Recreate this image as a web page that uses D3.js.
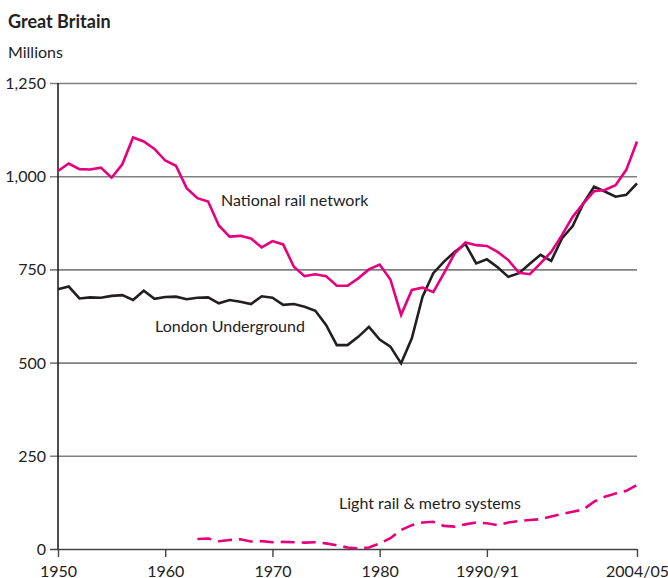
<!DOCTYPE html>
<html lang="en">
<head>
<meta charset="UTF-8">
<script src="https://d3js.org/d3.v7.min.js"></script>
<title>Great Britain rail passengers</title>
<style>
    body { margin: 0; background: white; }
    text { font-family: Lato, "Open Sans", sans-serif; fill: #222; }
</style>
</head>
<body>
<div id="chart"></div>
<script>
    // Passenger journeys, millions, one value per year 1950..2004/05
    const nationalRail = [1014, 1034, 1019, 1018, 1023, 996, 1032, 1104, 1093, 1073,
        1042, 1028, 968, 941, 932, 868, 838, 840, 833, 809,
        826, 817, 757, 732, 737, 732, 706, 706, 726, 750,
        763, 723, 628, 695, 701, 689, 740, 793, 822, 815,
        813, 797, 775, 741, 737, 766, 797, 842, 891, 927,
        960, 963, 976, 1017, 1093];
    const londonUnderground = [697, 704, 672, 675, 674, 679, 681, 668, 693, 671,
        676, 677, 670, 674, 675, 659, 668, 663, 657, 678,
        674, 655, 657, 650, 639, 601, 547, 547, 569, 596,
        562, 543, 498, 565, 677, 740, 771, 797, 818, 766,
        777, 756, 730, 740, 765, 789, 773, 833, 866, 927,
        972, 959, 945, 950, 981];
    // light rail starts in 1963
    const lightRailStart = 1963;
    const lightRail = [27, 28, 21, 24, 26, 20, 21, 18, 19, 18,
        17, 18, 15, 10, 4, 2, 4, 15, 29, 51,
        64, 71, 73, 62, 60, 66, 71, 69, 64, 71,
        75, 78, 80, 87, 94, 100, 106, 127, 140, 149,
        156, 172];

    const firstYear = 1950;
    const xTickValues = [1950, 1960, 1970, 1980, 1990, 2004];
    const xTickLabels = ["1950", "1960", "1970", "1980", "1990/91", "2004/05"];
    const yTickValues = [0, 250, 500, 750, 1000, 1250];

    const width = 668, height = 578;
    const mLeft = 58, mRight = 637, mTop = 83, mBottom = 549;
    const pink = "#e6007e";
    const fs = "16px";

    const svg = d3.select("#chart").append("svg")
        .attr("width", width)
        .attr("height", height);

    const x = d3.scaleLinear().domain([1950, 2004]).range([mLeft, mRight]);
    const y = d3.scaleLinear().domain([0, 1250]).range([mBottom, mTop]);

    // titles
    svg.append("text").attr("x", 8).attr("y", 28)
        .style("font-size", "18px").style("font-weight", "bold")
        .text("Great Britain");
    svg.append("text").attr("x", 8).attr("y", 58)
        .style("font-size", fs)
        .text("Millions");

    // y axis with gridlines
    const yAxis = svg.append("g")
        .attr("transform", `translate(${mLeft - 8},0)`)
        .call(d3.axisLeft(y)
            .tickValues(yTickValues)
            .tickSize(-(mRight - mLeft + 8))
            .tickPadding(4)
            .tickFormat(d3.format(",")));
    yAxis.select(".domain").remove();
    yAxis.selectAll(".tick line")
        .attr("stroke", d => d === 0 ? "#444" : "#808080")
        .attr("stroke-width", 1.6);
    yAxis.selectAll(".tick text")
        .style("font-size", fs)
        .attr("dy", "0.34em");

    // x axis
    const xAxis = svg.append("g")
        .attr("transform", `translate(0,${mBottom})`)
        .call(d3.axisBottom(x)
            .tickValues(xTickValues)
            .tickSize(8)
            .tickPadding(8)
            .tickFormat((d, i) => xTickLabels[i]));
    xAxis.select(".domain").remove();
    xAxis.selectAll(".tick line").attr("stroke", "#444").attr("stroke-width", 1.4);
    xAxis.selectAll(".tick text").style("font-size", fs).attr("dy", "0.75em");

    // vertical axis line
    svg.append("line")
        .attr("x1", mLeft).attr("x2", mLeft)
        .attr("y1", mTop).attr("y2", mBottom)
        .attr("stroke", "#222").attr("stroke-width", 1.6);

    const line = d3.line()
        .x(d => x(d[0]))
        .y(d => y(d[1]));

    const nrData = nationalRail.map((v, i) => [firstYear + i, v]);
    const luData = londonUnderground.map((v, i) => [firstYear + i, v]);
    const lrData = lightRail.map((v, i) => [lightRailStart + i, v]);

    svg.append("path").datum(luData)
        .attr("d", line)
        .attr("fill", "none")
        .attr("stroke", "#231f20")
        .attr("stroke-width", 2.6);

    svg.append("path").datum(nrData)
        .attr("d", line)
        .attr("fill", "none")
        .attr("stroke", pink)
        .attr("stroke-width", 2.6);

    svg.append("path").datum(lrData)
        .attr("d", line)
        .attr("fill", "none")
        .attr("stroke", pink)
        .attr("stroke-width", 2.6)
        .attr("stroke-dasharray", "14,7");

    // series labels
    svg.append("text").attr("x", 221).attr("y", 206)
        .style("font-size", fs).text("National rail network");
    svg.append("text").attr("x", 155).attr("y", 332)
        .style("font-size", fs).text("London Underground");
    svg.append("text").attr("x", 339).attr("y", 509)
        .style("font-size", fs).text("Light rail & metro systems");
</script>
</body>
</html>
